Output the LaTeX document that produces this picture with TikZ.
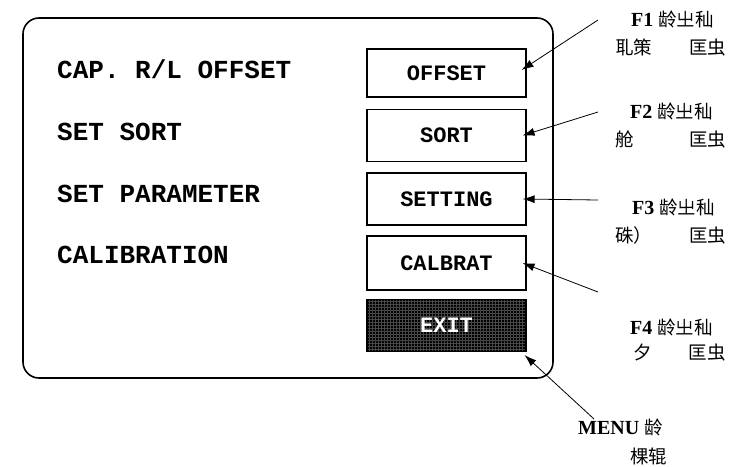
\documentclass[tikz,border=0pt]{standalone}
\usepackage{fontspec}
\setmainfont{Liberation Serif}
\setmonofont{Liberation Mono}
\newfontfamily\cjk{Noto Sans CJK SC}
\usetikzlibrary{arrows.meta,patterns}

\tikzset{
  softkey/.style={draw,line width=1.1pt,minimum width=159pt,minimum height=52pt,
    font=\ttfamily\bfseries\fontsize{22}{22}\selectfont},
  menutext/.style={anchor=base west,inner sep=0pt,
    font=\ttfamily\bfseries\fontsize{26}{26}\selectfont},
  keytext/.style={anchor=base west,inner sep=0pt,font=\fontsize{20}{20}\selectfont},
  cjktext/.style={anchor=base west,inner sep=0pt,font=\cjk\fontsize{18.5}{18.5}\selectfont},
  pointer/.style={line width=0.8pt,-{Latex[length=12pt,width=8pt]}}
}

\begin{document}
\begin{tikzpicture}[x=1pt,y=-1pt]
  \useasboundingbox (0,0) rectangle (738,466);
  \draw[line width=1.6pt,rounded corners=16pt] (23,18) rectangle (553,378);
  % menu items
  \node[menutext] (cap)   at (57,78.5)  {CAP. R/L OFFSET};
  \node[menutext] (srt)   at (57,140.5) {SET SORT};
  \node[menutext] (param) at (57,202.5) {SET PARAMETER};
  \node[menutext] (calib) at (57,263.5) {CALIBRATION};
  % soft keys
  \node[softkey,minimum height=48pt] (offset)  at (446.5,73)    {OFFSET};
  \node[softkey]                     (sort)    at (446.5,135.5) {SORT};
  \node[softkey]                     (setting) at (446.5,199)   {SETTING};
  \node[softkey,minimum height=54pt] (calbrat) at (446.5,263)   {CALBRAT};
  \node[softkey,text=white,preaction={fill=black},
        pattern=grid,pattern color=black!72] (exit) at (446.5,325.5) {EXIT};
  % key legends
  \node[keytext] (f1)  at (631,26)    {\textbf{F1} {\cjk\fontsize{18.5}{18.5}\selectfont 龄㞢秈}};
  \node[cjktext] (f1b) at (615,54)    {耴策　　匡虫};
  \node[keytext] (f2)  at (630,118.5) {\textbf{F2} {\cjk\fontsize{18.5}{18.5}\selectfont 龄㞢秈}};
  \node[cjktext] (f2b) at (615,146)   {舱　　　匡虫};
  \node[keytext] (f3)  at (632,214.5) {\textbf{F3} {\cjk\fontsize{18.5}{18.5}\selectfont 龄㞢秈}};
  \node[cjktext] (f3b) at (615,242)   {硃）　　匡虫};
  \node[keytext] (f4)  at (630,334.5) {\textbf{F4} {\cjk\fontsize{18.5}{18.5}\selectfont 龄㞢秈}};
  \node[cjktext] (f4b) at (633,359)   {夕　　匡虫};
  \node[keytext] (mn)  at (578,434.5) {\textbf{MENU} {\cjk\fontsize{18.5}{18.5}\selectfont 龄}};
  \node[cjktext] (mnb) at (630,463)   {棵辊};
  % pointers
  \coordinate (p1) at (598,20);  \coordinate (p2) at (598,112);
  \coordinate (p3) at (598,200); \coordinate (p4) at (598,292);
  \coordinate (p5) at (594,419);
  \draw[pointer] (p1) -- ([xshift=-5pt,yshift=3pt]offset.east);
  \draw[pointer] (p2) -- ([xshift=-4pt]sort.east);
  \draw[pointer] (p3) -- ([xshift=-4pt]setting.east);
  \draw[pointer] (p4) -- ([xshift=-4pt]calbrat.east);
  \draw[pointer] (p5) -- ([xshift=-2pt,yshift=-3pt]exit.south east);
\end{tikzpicture}
\end{document}
